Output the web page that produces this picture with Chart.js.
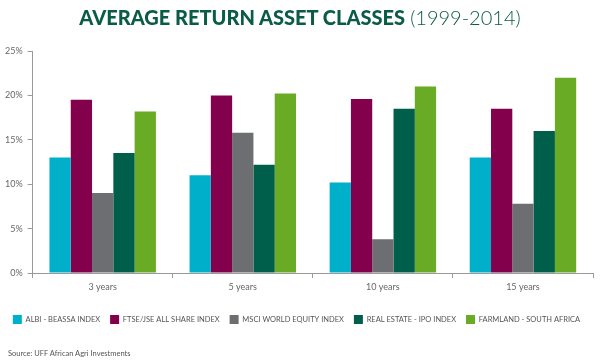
<!DOCTYPE html>
<html>
<head>
<meta charset="utf-8">
<script src="https://cdn.jsdelivr.net/npm/chart.js@4"></script>
<style>
  body { margin: 0; background: #fff; }
  #wrap { position: relative; width: 600px; height: 364px; }
  #title {
    position: absolute; top: 5px; left: 0; width: 600px; text-align: center;
    font-family: Lato, sans-serif; font-size: 20px; color: #0b5c46; white-space: nowrap;
  }
  #title b { font-weight: 900; }
  #title span { font-weight: 300; }
  #source {
    position: absolute; left: 8px; top: 349px;
    font-family: Lato, sans-serif; font-size: 7.5px; color: #555;
  }
</style>
</head>
<body>
<div id="wrap">
  <div id="title"><b>AVERAGE RETURN ASSET CLASSES</b> <span>(1999-2014)</span></div>
  <canvas id="returns" width="600" height="364"></canvas>
  <div id="source">Source: UFF African Agri Investments</div>
</div>
<script>
const categories = ['3 years', '5 years', '10 years', '15 years'];
const albi = [13.0, 11.0, 10.2, 13.0];
const ftse = [19.5, 20.0, 19.6, 18.5];
const msci = [9.0, 15.8, 3.8, 7.8];
const realEstate = [13.5, 12.2, 18.5, 16.0];
const farmland = [18.2, 20.2, 21.0, 22.0];
const yTicks = [0, 5, 10, 15, 20, 25];

const axisGrey = '#9a9a9a';
const textGrey = '#666';

// Average returns (grouped bar chart)
const ctx = document.getElementById('returns');
new Chart(ctx, {
  type: 'bar',
  data: {
    labels: categories,
    datasets: [
      { label: 'ALBI - BEASSA INDEX', data: albi, backgroundColor: '#00b0ca' },
      { label: 'FTSE/JSE ALL SHARE INDEX', data: ftse, backgroundColor: '#82004c' },
      { label: 'MSCI WORLD EQUITY INDEX', data: msci, backgroundColor: '#6d6e71' },
      { label: 'REAL ESTATE - IPO INDEX', data: realEstate, backgroundColor: '#005f4b' },
      { label: 'FARMLAND - SOUTH AFRICA', data: farmland, backgroundColor: '#6aab25' }
    ]
  },
  options: {
    responsive: false,
    animation: false,
    datasets: { bar: { categoryPercentage: 0.76, barPercentage: 1.0 } },
    layout: { padding: { top: 51, left: 0, right: 7, bottom: 30 } },
    scales: {
      x: {
        afterFit: (axis) => { axis.height = 32; },
        grid: { display: true, offset: true, drawOnChartArea: false, drawTicks: true, tickLength: 5, color: axisGrey },
        border: { display: true, color: axisGrey },
        ticks: { color: textGrey, font: { family: 'Lato', size: 9 }, padding: 4 }
      },
      y: {
        min: 0, max: 25,
        afterBuildTicks: (axis) => { axis.ticks = yTicks.map(v => ({ value: v })); },
        grid: { drawOnChartArea: false, drawTicks: true, tickLength: 5, color: axisGrey },
        border: { display: true, color: axisGrey },
        ticks: { color: textGrey, font: { family: 'Lato', size: 9 }, padding: 5, callback: v => v + '%' }
      }
    },
    plugins: {
      tooltip: { enabled: false },
      legend: {
        position: 'bottom',
        labels: { boxWidth: 9, boxHeight: 9, padding: 10, color: '#555', font: { family: 'Lato', size: 7.5 } }
      }
    }
  }
});
</script>
</body>
</html>
